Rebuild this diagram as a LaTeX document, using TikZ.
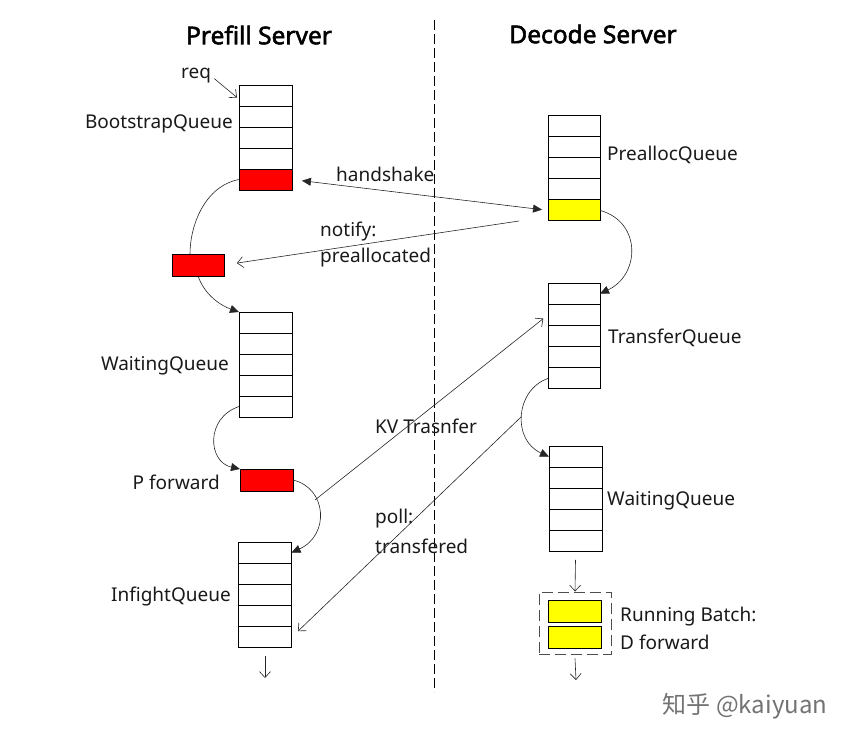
\documentclass[tikz,border=0pt]{standalone}
\usepackage{fontspec}
\setmainfont{Noto Sans}
\newfontfamily\ttlfont[FakeBold=2.2]{Noto Sans}
\newfontfamily\cjk{Noto Sans CJK SC}
\usetikzlibrary{arrows.meta}
\definecolor{qred}{RGB}{255,0,0}
\definecolor{qyel}{RGB}{255,255,0}
\definecolor{txt}{RGB}{25,25,25}
\begin{document}
\begin{tikzpicture}[x=1pt,y=-1pt,
  cell/.style={draw, line width=0.9pt, minimum width=53pt, minimum height=21pt, inner sep=0pt, outer sep=0pt},
  lbl/.style={inner sep=0pt, font=\fontsize{19}{22}\selectfont, text=txt, anchor=west},
  lblr/.style={lbl, anchor=east},
  ttl/.style={inner sep=0pt, font=\ttlfont\fontsize{24.5}{28}\selectfont, text=black},
  conn/.style={line width=0.6pt, draw=black!85},
  fa/.style={-{Triangle[length=9pt,width=8pt]}},
  oa/.style={-{Straight Barb[length=6pt,width=11pt,line width=0.6pt]}}
]
\useasboundingbox (0,0) rectangle (858,744);

% titles
\node[ttl] (pt) at (259,35) {Prefill Server};
\node[ttl] (dt) at (593,34) {Decode Server};

% separator
\coordinate (sepTop) at (434,20);
\coordinate (sepBot) at (434,692);
\draw[line width=0.9pt, dash pattern=on 10pt off 4pt] (sepTop) -- (sepBot);

% ---------- Prefill side ----------
% BootstrapQueue
\foreach \i in {1,...,4} \node[cell] (bq\i) at (265.5,{85+21*\i-10.5}) {};
\node[cell, fill=qred] (bq5) at (265.5,179.5) {};
\node[lblr] (bql) at (233,124) {BootstrapQueue};
\node[lbl, anchor=center] (req) at (196,76) {req};

% small red box
\node[cell, fill=qred, minimum width=52pt, minimum height=22pt] (sr) at (198,265) {};

% WaitingQueue (prefill)
\foreach \i in {1,...,5} \node[cell] (wq\i) at (265.5,{312+21*\i-10.5}) {};
\node[lblr] (wql) at (229,366) {WaitingQueue};

% P forward box
\node[cell, fill=qred, minimum height=22pt] (pf) at (266.5,480) {};
\node[lblr] (pfl) at (220,482) {P forward};

% InfightQueue
\foreach \i in {1,...,5} \node[cell] (iq\i) at (265,{542+21.2*\i-10.6}) {};
\node[lblr] (iql) at (231,597) {InfightQueue};
\coordinate (iqout) at (265,678);

% ---------- Decode side ----------
% PreallocQueue
\foreach \i in {1,...,4} \node[cell, minimum width=52pt] (pq\i) at (574,{115+21.2*\i-10.6}) {};
\node[cell, minimum width=52pt, fill=qyel] (pq5) at (574,{115+21.2*5-10.6}) {};
\node[lbl] (pql) at (607,155) {PreallocQueue};

% TransferQueue
\foreach \i in {1,...,5} \node[cell, minimum width=52pt] (tq\i) at (574,{283+21.2*\i-10.6}) {};
\node[lbl] (tql) at (608,338) {TransferQueue};

% WaitingQueue (decode)
\foreach \i in {1,...,5} \node[cell] (wr\i) at (575.5,{446+21.2*\i-10.6}) {};
\node[lbl] (wrl) at (607,501) {WaitingQueue};

% Running batch
\node[draw=black!70, line width=0.9pt, dash pattern=on 11pt off 5pt, minimum width=72pt, minimum height=62pt, inner sep=0pt] (rb) at (575,623) {};
\node[cell, fill=qyel, minimum height=22pt] (rb1) at (574.5,611) {};
\node[cell, fill=qyel, minimum height=22pt] (rb2) at (574.5,637) {};
\node[lbl] (rbl1) at (620,617) {Running Batch:};
\node[lbl] (rbl2) at (620,642) {D forward};
\coordinate (rbout) at (576,680);

% ---------- message labels ----------
\node[lbl] (hsl) at (336,174) {handshake};
\node[lbl] (ntl1) at (320,232) {notify:};
\node[lbl] (ntl2) at (320,258) {preallocated};
\node[lbl] (kvl) at (375,426) {KV Trasnfer};
\node[lbl] (pll1) at (375,519) {poll:};
\node[lbl] (pll2) at (375,546) {transfered};

% ---------- connectors ----------
\draw[conn, oa, shorten <=4pt] (req.east) -- ([xshift=-2pt,yshift=-2pt]bq1.west);

% prefill flow
\draw[conn] (bq5.west) .. controls (205,186) and (190,225) .. ([xshift=-8pt]sr.north);
\draw[conn, fa] (sr.south) .. controls (205,296) and (222,306) .. (wq1.north west);
\draw[conn, fa] (wq5.west) .. controls (205,418) and (208,462) .. (pf.north west);
\draw[conn, fa] (pf.east) .. controls (327,488) and (330,535) .. (iq1.east);
\draw[conn, oa] ([yshift=-8pt]iq5.south) -- (iqout);

% decode flow
\draw[conn, fa] (pq5.east) .. controls (642,222) and (640,275) .. (tq1.east);
\draw[conn, fa] (tq5.west) .. controls (515,390) and (512,440) .. (wr1.west);
\draw[conn, oa] ([yshift=-8pt]wr5.south) -- (rb.north);
\draw[conn, oa] ([yshift=-4pt]rb.south) -- (rbout);

% messages
\draw[conn, {Triangle[length=9pt,width=8pt]}-{Triangle[length=9pt,width=8pt]}, shorten <=10pt, shorten >=6pt] (bq5.east) -- (pq5.west);
\coordinate (ns) at (519,221);
\draw[conn, oa, shorten >=13pt] (ns) -- (sr.east);
\coordinate (kvs) at (315,500);
\draw[conn, oa, shorten >=6pt] (kvs) -- (tq2.west);
\coordinate (ps) at (521,417);
\draw[conn, oa, shorten >=9pt] (ps) -- (iq5.east);

% watermark text
\node[inner sep=0pt, font=\cjk\fontsize{24}{28}\selectfont, text=black!55] (wm) at (745,706) {知乎 @kaiyuan};
\end{tikzpicture}
\end{document}
